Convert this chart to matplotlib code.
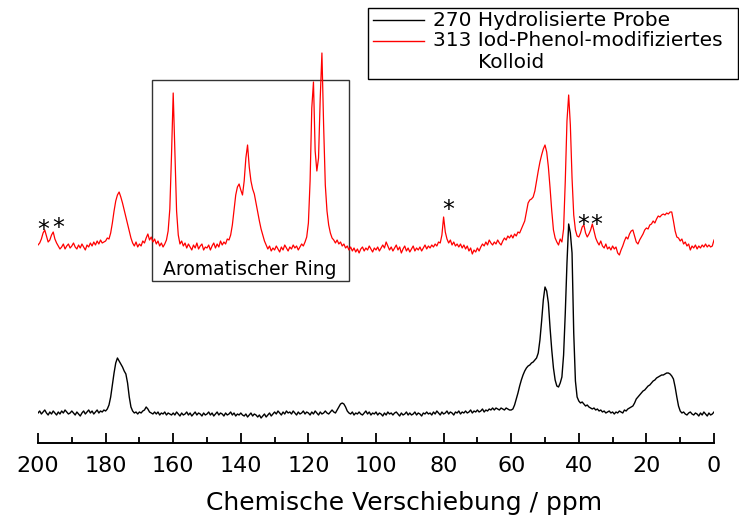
"""
13C CP/MAS NMR: hydrolysed sample vs. iodophenol-modified colloid.
Intensities are in arbitrary units, the modified sample is stacked above.
"""

import numpy as np
import matplotlib.pyplot as plt
from matplotlib.patches import Rectangle
from matplotlib.lines import Line2D
from matplotlib.ticker import MultipleLocator

plt.rcParams['font.family'] = ['DejaVu Sans']

# chemical shift step of both spectra, ppm (200 -> 0)
step = 0.5

# 270 Hydrolisierte Probe
probe_270 = [
    30, 32, 29, 31, 33, 30, 28, 31, 29, 32,      # 200
    30, 28, 31, 29, 32, 30, 33, 31, 29, 30,      # 195
    32, 30, 28, 31, 29, 27, 30, 32, 29, 31,      # 190
    33, 30, 32, 29, 31, 33, 30, 32, 31, 33,      # 185
    32, 34, 38, 46, 58, 70, 80, 85, 82, 79,      # 180
    76, 72, 69, 60, 46, 36, 32, 30, 31, 29,      # 175
    31, 30, 32, 33, 36, 34, 31, 30, 29, 31,      # 170
    29, 31, 28, 30, 29, 31, 28, 30, 29, 28,      # 165
    30, 28, 31, 29, 27, 30, 28, 29, 31, 28,      # 160
    30, 27, 29, 31, 28, 30, 29, 27, 30, 28,      # 155
    29, 31, 28, 30, 27, 29, 31, 28, 30, 29,      # 150
    27, 30, 28, 29, 31, 28, 30, 27, 29, 28,      # 145
    30, 28, 27, 29, 26, 28, 30, 27, 29, 28,      # 140
    26, 28, 25, 27, 29, 26, 28, 30, 27, 29,      # 135
    31, 29, 32, 30, 28, 31, 29, 32, 30, 31,      # 130
    29, 32, 30, 28, 31, 29, 30, 32, 29, 31,      # 125
    30, 28, 31, 29, 32, 30, 28, 31, 29, 30,      # 120
    32, 30, 29, 31, 33, 31, 30, 33, 36, 39,      # 115
    40, 39, 36, 32, 30, 29, 31, 28, 30, 29,      # 110
    31, 29, 28, 30, 32, 29, 31, 28, 30, 29,      # 105
    31, 28, 30, 29, 27, 30, 28, 31, 29, 30,      # 100
    28, 30, 31, 29, 27, 30, 28, 29, 31, 28,      # 95
    30, 28, 29, 31, 28, 30, 29, 27, 30, 29,      # 90
    31, 29, 30, 28, 31, 29, 32, 30, 28, 31,      # 85
    29, 30, 32, 29, 31, 30, 28, 31, 30, 32,      # 80
    29, 31, 30, 32, 30, 31, 33, 30, 32, 31,      # 75
    33, 31, 32, 34, 31, 33, 32, 34, 33, 35,      # 70
    33, 35, 34, 33, 35, 34, 33, 35, 34, 33,      # 65
    33, 34, 38, 44, 50, 57, 63, 68, 72, 75,      # 60
    77, 78, 80, 81, 83, 85, 90, 103, 122, 143,   # 55
    156, 152, 140, 115, 93, 75, 63, 57, 56, 60,  # 50
    66, 88, 130, 180, 219, 210, 190, 110, 62, 46,  # 45
    42, 40, 41, 39, 37, 38, 36, 35, 34, 35,      # 40
    33, 34, 32, 33, 31, 32, 30, 31, 32, 30,      # 35
    31, 29, 31, 30, 32, 31, 30, 33, 32, 34,      # 30
    35, 36, 37, 40, 44, 46, 48, 50, 52, 53,      # 25
    55, 57, 58, 60, 62, 63, 65, 66, 67, 68,      # 20
    68, 69, 70, 70, 69, 67, 64, 56, 46, 37,      # 15
    32, 30, 31, 29, 28, 30, 31, 29, 28, 30,      # 10
    29, 27, 30, 28, 31, 29, 27, 30, 28, 29,      # 5
    31,                                          # 0
]

# 313 Iod-Phenol-modifiziertes Kolloid (already offset upwards)
probe_313 = [
    198, 200, 204, 210, 213, 207, 201, 203, 208, 211,  # 200
    204, 200, 197, 194, 196, 199, 194, 197, 199, 195,  # 195
    197, 200, 196, 194, 198, 195, 199, 196, 193, 198,  # 190
    196, 200, 197, 201, 198, 202, 199, 203, 200, 201,  # 185
    202, 205, 204, 210, 220, 232, 242, 248, 251, 246,  # 180
    240, 233, 226, 219, 212, 205, 200, 197, 201, 196,  # 175
    199, 197, 202, 200, 205, 209, 203, 206, 201, 204,  # 170
    199, 202, 197, 200, 196, 199, 203, 212, 234, 288,  # 165
    350, 292, 232, 208, 199, 202, 197, 200, 195, 199,  # 160
    196, 193, 198, 195, 200, 194, 197, 199, 193, 196,  # 155
    195, 198, 193, 197, 200, 195, 199, 196, 202, 198,  # 150
    201, 199, 204, 203, 208, 218, 233, 248, 256, 259,  # 145
    253, 248, 262, 285, 298, 276, 262, 254, 249, 240,  # 140
    231, 222, 214, 208, 202, 198, 194, 197, 192, 195,  # 135
    193, 197, 194, 191, 196, 193, 198, 195, 192, 196,  # 130
    194, 198, 195, 197, 193, 196, 199, 197, 201, 206,  # 125
    220, 262, 335, 361, 292, 272, 285, 345, 390, 318,  # 120
    258, 232, 218, 210, 205, 203, 200, 203, 199, 201,  # 115
    197, 199, 195, 197, 193, 196, 192, 195, 191, 194,  # 110
    190, 194, 196, 192, 195, 193, 197, 194, 191, 195,  # 105
    193, 196, 192, 195, 198, 195, 201, 197, 193, 196,  # 100
    192, 195, 198, 193, 196, 190, 194, 197, 192, 195,  # 95
    191, 194, 197, 192, 195, 193, 196, 192, 195, 198,  # 90
    194, 197, 195, 198, 196, 199, 197, 201, 200, 208,  # 85
    226, 211, 204, 200, 203, 198, 201, 197, 199, 196,  # 80
    199, 195, 198, 194, 197, 192, 195, 189, 193, 191,  # 75
    195, 192, 196, 199, 197, 201, 198, 203, 200, 198,  # 70
    201, 199, 203, 200, 198, 202, 205, 203, 207, 205,  # 65
    208, 205, 209, 207, 211, 210, 214, 218, 222, 231,  # 60
    240, 243, 244, 246, 252, 262, 272, 281, 288, 294,  # 55
    298, 291, 276, 255, 232, 213, 205, 201, 198, 204,  # 50
    201, 214, 262, 322, 348, 318, 265, 228, 213, 207,  # 45
    206, 210, 216, 218, 210, 206, 209, 213, 219, 212,  # 40
    205, 201, 198, 202, 197, 195, 199, 194, 196, 193,  # 35
    197, 194, 196, 190, 188, 193, 197, 202, 206, 204,  # 30
    209, 212, 213, 207, 201, 199, 203, 206, 209, 213,  # 25
    215, 214, 218, 219, 222, 220, 224, 227, 226, 228,  # 20
    229, 228, 230, 229, 231, 231, 222, 212, 206, 205,  # 15
    202, 204, 199, 201, 197, 199, 193, 197, 195, 198,  # 10
    194, 197, 195, 198, 196, 199, 196, 198, 196, 197,  # 5
    203,                                               # 0
]

ppm = 200 - step * np.arange(len(probe_270))

# spinning side bands
sideband_ppm = [198.5, 194.1, 78.7, 38.8, 34.9]
sideband_y = [213, 215, 233, 218, 218]

W, H = 739, 523
fig = plt.figure(figsize=(W / 100, H / 100), dpi=100)
ax = fig.add_axes([38 / W, 1 - 443 / H, (714 - 38) / W, 443 / H])

ax.plot(ppm, probe_270, color='black', lw=1.0)
ax.plot(ppm, probe_313, color='red', lw=0.9)

ax.set_xlim(200, 0)
ax.set_ylim(0, 443)

for s in ['left', 'right', 'top']:
    ax.spines[s].set_visible(False)
ax.spines['bottom'].set_linewidth(1.4)
ax.set_yticks([])
ax.xaxis.set_major_locator(MultipleLocator(20))
ax.xaxis.set_minor_locator(MultipleLocator(10))
ax.tick_params(axis='x', which='major', direction='in', length=7, width=1.3,
               labelsize=16, pad=9)
ax.tick_params(axis='x', which='minor', direction='in', length=4, width=1.3)
ax.set_xlabel('Chemische Verschiebung / ppm', fontsize=18, labelpad=11)
ax.xaxis.label.set_x(0.541)

# aromatic region frame
ax.add_patch(Rectangle((166.3, 162), 108 - 166.3, 363 - 162, fill=False,
                       edgecolor='#333333', lw=1))
ax.text(137.3, 174, 'Aromatischer Ring', fontsize=13.5, ha='center', va='center')

for x, y in zip(sideband_ppm, sideband_y):
    ax.text(x, y, '*', fontsize=17, ha='center', va='center')


# legend drawn by hand in figure pixels
def px(x, y):
    return x / W, 1 - y / H


x0, y0 = px(368, 79)
x1, y1 = px(738, 8)
fig.add_artist(Rectangle((x0, y0), x1 - x0, y1 - y0, transform=fig.transFigure,
                         fill=False, edgecolor='black', lw=1))
for yy, col, label in [(20, 'black', '270 Hydrolisierte Probe'),
                       (41, 'red', '313 Iod-Phenol-modifiziertes')]:
    (lx0, ly), (lx1, _) = px(373, yy), px(424, yy)
    fig.add_artist(Line2D([lx0, lx1], [ly, ly], transform=fig.transFigure,
                          color=col, lw=1))
    tx, ty = px(433, yy)
    fig.text(tx, ty, label, fontsize=14.5, va='center', ha='left')
tx, ty = px(478, 63)
fig.text(tx, ty, 'Kolloid', fontsize=14.5, va='center', ha='left')

fig.savefig('out.png', dpi=100)
